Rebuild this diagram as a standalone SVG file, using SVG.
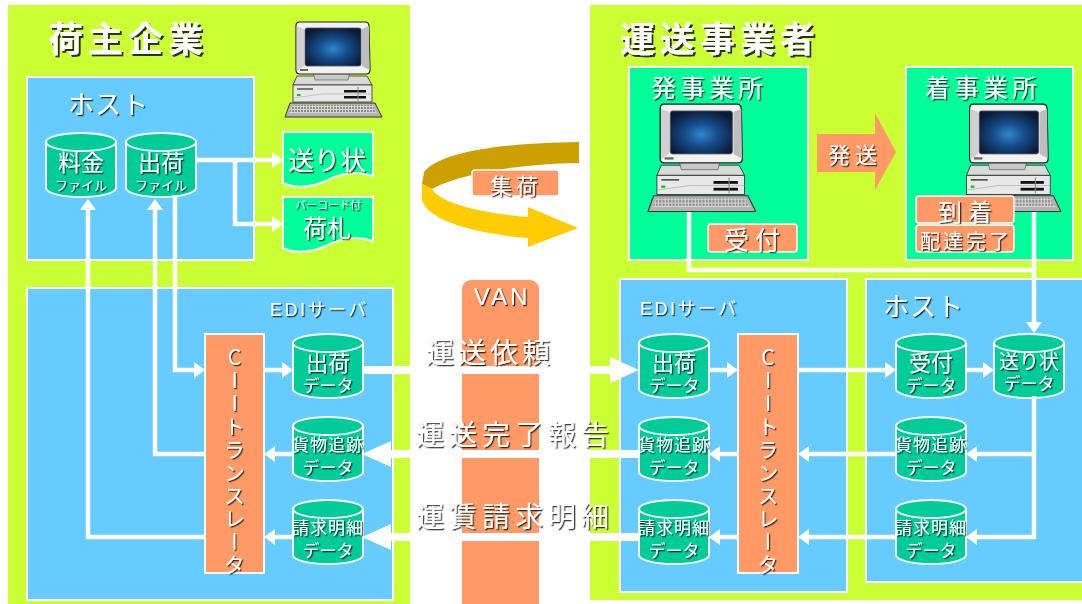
<svg xmlns="http://www.w3.org/2000/svg" width="1082" height="604" viewBox="0 0 1082 604">
  <defs>
    <style>
      .panel { fill: #CCFF33; }
      .box { fill: #66CCFF; stroke: #FFFFFF; stroke-width: 2; }
      .office { fill: #00FF99; stroke: #FFFFFF; stroke-width: 2; }
      .doc { fill: #00FF99; stroke: #FFFFFF; stroke-width: 2; }
      .orange { fill: #FF9966; stroke: #FFFFFF; stroke-width: 1.5; }
      .tr { fill: #FF9966; stroke: #FFFFFF; stroke-width: 2; }
      .t { font-family: "Liberation Sans", "Noto Sans CJK JP", sans-serif; fill: #FFFFFF; filter: url(#sh); }
      .title { font-size: 35px; font-weight: bold; letter-spacing: 5px; filter: url(#sh2); }
      .mid { text-anchor: middle; }
      .vt { font-family: "Noto Sans CJK JP", sans-serif; writing-mode: vertical-rl; text-orientation: upright; font-size: 21px; letter-spacing: 2px; }
      .ln { fill: none; stroke: #FFFFFF; stroke-width: 4.5; stroke-linejoin: miter; marker-end: url(#ah); }
      .lnp { fill: none; stroke: #FFFFFF; stroke-width: 4.5; stroke-linejoin: miter; }
      .big { fill: none; stroke: #FFFFFF; stroke-width: 8; marker-end: url(#ahb); }
    </style>
    <filter id="sh" x="-10%" y="-10%" width="130%" height="140%">
      <feDropShadow dx="1.3" dy="1.3" stdDeviation="0.4" flood-color="#000000" flood-opacity="0.75"/>
    </filter>
    <filter id="sh2" x="-10%" y="-10%" width="130%" height="140%">
      <feDropShadow dx="2" dy="2" stdDeviation="0.5" flood-color="#000000" flood-opacity="0.8"/>
    </filter>
    <marker id="ah" viewBox="0 -8 11 16" refX="0.5" refY="0" markerWidth="11" markerHeight="16" markerUnits="userSpaceOnUse" orient="auto">
      <path d="M0,-8 L11,0 L0,8 Z" fill="#FFFFFF"/>
    </marker>
    <marker id="ahb" viewBox="0 -13 29 26" refX="1" refY="0" markerWidth="29" markerHeight="26" markerUnits="userSpaceOnUse" orient="auto">
      <path d="M0,-13 L29,0 L0,13 Z" fill="#FFFFFF"/>
    </marker>
    <radialGradient id="scr" cx="50%" cy="55%" r="60%">
      <stop offset="0" stop-color="#2F86CF"/>
      <stop offset="0.45" stop-color="#164C8A"/>
      <stop offset="1" stop-color="#0A1A36"/>
    </radialGradient>
    <pattern id="keys" width="3" height="3" patternUnits="userSpaceOnUse">
      <rect width="3" height="3" fill="#D6D6D6"/>
      <rect width="2" height="2" fill="#8C8C8C"/>
    </pattern>
    <!-- desktop computer icon, local size about 100 x 98 -->
    <g id="pc">
      <polygon points="14,56 84,56 89,65 10,65" fill="#D9D9D9" stroke="#333333" stroke-width="0.8"/>
      <rect x="10" y="65" width="79" height="17" fill="#E8E8E8" stroke="#333333" stroke-width="0.8"/>
      <line x1="14" y1="69" x2="30" y2="69" stroke="#555555" stroke-width="1.5"/>
      <rect x="14" y="74" width="3.5" height="2" fill="#00CC00"/>
      <path d="M10,78 L40,74 L89,74" fill="none" stroke="#AAAAAA" stroke-width="0.6"/>
      <rect x="61" y="70" width="22" height="2.5" fill="#111111"/>
      <rect x="61" y="76" width="22" height="2.5" fill="#111111"/>
      <line x1="75" y1="67" x2="75" y2="81" stroke="#888888" stroke-width="1"/>
      <path d="M30,52 H67 L65,60 H32 Z" fill="#C8C8C8" stroke="#555555" stroke-width="0.6"/>
      <path d="M16,2 H82 Q86,2 86,6 L87,50 Q87,54 83,54 H17 Q13,54 13,50 L13,6 Q13,2 16,2 Z" fill="#F2F2F2" stroke="#222222" stroke-width="1.2"/>
      <path d="M13.6,6 L21,9 L21,46 L13.6,51 Z" fill="#D0D0D0"/>
      <path d="M86,6 L79,9 L79,46 L86.5,50 Z" fill="#BEBEBE"/>
      <rect x="22" y="8" width="56" height="38" rx="2" fill="url(#scr)" stroke="#555555" stroke-width="0.8"/>
      <rect x="17" y="49" width="8" height="2" fill="#666666"/>
      <polygon points="7,83 92,83 99,97 2,97" fill="#B4B4B4" stroke="#333333" stroke-width="1"/>
      <polygon points="10,85 89,85 94,93 6,93" fill="url(#keys)"/>
    </g>
    <!-- database cylinder, 70 x 64 -->
    <g id="cyl">
      <path d="M0,9 A35,9 0 0 1 70,9 V55 A35,9 0 0 1 0,55 Z" fill="#00CC99" stroke="#FFFFFF" stroke-width="2"/>
      <path d="M0,9 A35,9 0 0 0 70,9" fill="none" stroke="#FFFFFF" stroke-width="2"/>
    </g>
  </defs>

  <rect width="1082" height="604" fill="#FFFFFF"/>

  <!-- shipper side -->
  <g id="shipper">
    <rect class="panel" x="8" y="5" width="402" height="599"/>
    <text class="t title" x="48" y="52">荷主企業</text>
  </g>
  <!-- carrier side -->
  <g id="carrier">
    <rect class="panel" x="590" y="5" width="492" height="595"/>
    <text class="t title" x="620" y="52">運送事業者</text>
  </g>

  <g id="shipper-host">
    <rect class="box" x="27" y="77" width="227" height="183"/>
    <text class="t" x="68" y="114" font-size="26" letter-spacing="1">ホスト</text>
  </g>
  <g id="shipper-edi">
    <rect class="box" x="27" y="288" width="366" height="312"/>
    <text class="t" x="270" y="316" font-size="18" letter-spacing="2.5">EDIサーバ</text>
  </g>
  <g id="carrier-edi">
    <rect class="box" x="620" y="279" width="227" height="313"/>
    <text class="t" x="640" y="315" font-size="18" letter-spacing="2.5">EDIサーバ</text>
  </g>
  <g id="carrier-host">
    <rect class="box" x="866" y="279" width="220" height="303"/>
    <text class="t" x="883" y="316" font-size="26" letter-spacing="1">ホスト</text>
  </g>

  <g id="van">
    <rect x="462" y="280" width="77" height="334" rx="9" fill="#FF9966"/>
    <text class="t mid" x="502" y="305" font-size="24" letter-spacing="3">VAN</text>
  </g>

  <g id="shipper-pc">
    <use href="#pc" transform="translate(283,20)"/>
  </g>

  <g id="doc-invoice">
    <path class="doc" d="M283,132 H373 V176 C355,170 340,174 328,180 C315,186 298,190 283,183 Z"/>
    <text class="t mid" x="327" y="170" font-size="26">送り状</text>
  </g>
  <g id="doc-tag">
    <path class="doc" d="M283,197 H373 V241 C355,235 340,239 328,245 C315,251 298,255 283,248 Z"/>
    <text class="t mid" x="328" y="209" font-size="11">バーコード付</text>
    <text class="t mid" x="327" y="237" font-size="24">荷札</text>
  </g>

  <g id="cyl-fee-file">
    <use href="#cyl" x="46" y="133"/>
    <text class="t mid" x="81" y="171" font-size="23">料金</text>
    <text class="t mid" x="81" y="190" font-size="13">ファイル</text>
  </g>
  <g id="cyl-ship-file">
    <use href="#cyl" x="126" y="133"/>
    <text class="t mid" x="161" y="171" font-size="23">出荷</text>
    <text class="t mid" x="161" y="190" font-size="13">ファイル</text>
  </g>

  <g id="shipper-translator">
    <rect class="tr" x="205" y="334" width="59" height="239"/>
    <text class="t vt" x="234.5" y="347">CIIトランスレータ</text>
  </g>

  <g id="s-ship-data">
    <use href="#cyl" x="293" y="334"/>
    <text class="t mid" x="328" y="371" font-size="22">出荷</text>
    <text class="t mid" x="328" y="392" font-size="17">データ</text>
  </g>
  <g id="s-track-data">
    <use href="#cyl" x="293" y="417"/>
    <text class="t mid" x="328" y="451" font-size="17" letter-spacing="1">貨物追跡</text>
    <text class="t mid" x="328" y="474" font-size="17">データ</text>
  </g>
  <g id="s-bill-data">
    <use href="#cyl" x="293" y="500"/>
    <text class="t mid" x="328" y="534" font-size="17" letter-spacing="1">請求明細</text>
    <text class="t mid" x="328" y="557" font-size="17">データ</text>
  </g>

  <g id="pickup">
    <path d="M579,142 C500,143 440,152 424,172 L422,184 L432,189 C455,176 510,164 579,163 Z" fill="#CCA000"/>
    <path d="M422,184 L422,200 C428,222 480,234 528,238 L528,247 L578,228 L528,207 L528,217 C480,213 440,203 432,189 Z" fill="#FFCC00"/>
    <rect class="orange" x="472" y="170" width="87" height="26" rx="3"/>
    <text class="t mid" x="516" y="194" font-size="22" letter-spacing="4">集荷</text>
  </g>

  <g id="origin-office">
    <rect class="office" x="629" y="67" width="179" height="193"/>
    <text class="t" x="651" y="97" font-size="25" letter-spacing="4">発事業所</text>
    <use href="#pc" transform="translate(645.8,101.9) scale(1.11,1.13)"/>
    <rect class="orange" x="708" y="224" width="89" height="28" rx="3"/>
    <text class="t mid" x="755" y="249" font-size="25" letter-spacing="6">受付</text>
  </g>

  <g id="dispatch">
    <polygon points="817,134 875,134 875,113 896,152 875,190 875,172 817,172" fill="#FF9966"/>
    <text class="t mid" x="855" y="163" font-size="22" letter-spacing="5">発送</text>
  </g>

  <g id="dest-office">
    <rect class="office" x="906" y="67" width="167" height="193"/>
    <text class="t" x="925" y="97" font-size="25" letter-spacing="4">着事業所</text>
    <use href="#pc" transform="translate(955.9,101.9) scale(1.06,1.13)"/>
    <rect class="orange" x="916" y="196" width="98" height="27" rx="3"/>
    <text class="t mid" x="968" y="221" font-size="24" letter-spacing="6">到着</text>
    <rect class="orange" x="916" y="225" width="98" height="27" rx="3"/>
    <text class="t mid" x="966" y="249" font-size="20" letter-spacing="3">配達完了</text>
  </g>

  <g id="c-ship-data">
    <use href="#cyl" x="639" y="334"/>
    <text class="t mid" x="674" y="371" font-size="22">出荷</text>
    <text class="t mid" x="674" y="392" font-size="17">データ</text>
  </g>
  <g id="c-track-data">
    <use href="#cyl" x="639" y="417"/>
    <text class="t mid" x="674" y="451" font-size="17" letter-spacing="1">貨物追跡</text>
    <text class="t mid" x="674" y="474" font-size="17">データ</text>
  </g>
  <g id="c-bill-data">
    <use href="#cyl" x="639" y="500"/>
    <text class="t mid" x="674" y="534" font-size="17" letter-spacing="1">請求明細</text>
    <text class="t mid" x="674" y="557" font-size="17">データ</text>
  </g>

  <g id="carrier-translator">
    <rect class="tr" x="738" y="334" width="60" height="239"/>
    <text class="t vt" x="768" y="347">CIIトランスレータ</text>
  </g>

  <g id="h-recv-data">
    <use href="#cyl" x="896" y="334"/>
    <text class="t mid" x="931" y="371" font-size="22">受付</text>
    <text class="t mid" x="931" y="392" font-size="17">データ</text>
  </g>
  <g id="h-invoice-data">
    <use href="#cyl" x="994" y="334"/>
    <text class="t mid" x="1029" y="369" font-size="20">送り状</text>
    <text class="t mid" x="1029" y="390" font-size="17">データ</text>
  </g>
  <g id="h-track-data">
    <use href="#cyl" x="896" y="417"/>
    <text class="t mid" x="931" y="451" font-size="17" letter-spacing="1">貨物追跡</text>
    <text class="t mid" x="931" y="474" font-size="17">データ</text>
  </g>
  <g id="h-bill-data">
    <use href="#cyl" x="896" y="500"/>
    <text class="t mid" x="931" y="534" font-size="17" letter-spacing="1">請求明細</text>
    <text class="t mid" x="931" y="557" font-size="17">データ</text>
  </g>

  <g id="connectors">
    <!-- shipper host -->
    <path class="ln" d="M196,160 H272.5"/>
    <path class="ln" d="M235,160 V224 H272.5"/>
    <path class="ln" d="M205,537 H88 V209.5"/>
    <path class="ln" d="M205,454 H155 V209.5"/>
    <path class="ln" d="M175,195 V370 H194.5"/>
    <!-- shipper EDI -->
    <path class="ln" d="M264,370 H282.5"/>
    <path class="ln" d="M293,454 H274.5"/>
    <path class="ln" d="M293,537 H274.5"/>
    <!-- through VAN -->
    <path class="big" d="M362,370 H611"/>
    <path class="big" d="M639,454 H390"/>
    <path class="big" d="M639,537 H390"/>
    <!-- carrier EDI and host -->
    <path class="ln" d="M709,370 H727.5"/>
    <path class="ln" d="M798,370 H885.5"/>
    <path class="ln" d="M966,370 H983.5"/>
    <path class="ln" d="M1034,396 V537 H976.5"/>
    <path class="ln" d="M1034,454 H976.5"/>
    <path class="ln" d="M896,454 H808.5"/>
    <path class="ln" d="M896,537 H808.5"/>
    <path class="ln" d="M738,454 H719.5"/>
    <path class="ln" d="M738,537 H719.5"/>
    <!-- offices to host -->
    <path class="ln" d="M689,212 V270 H1034 V322.5"/>
    <path class="lnp" d="M1034,212 V270"/>
  </g>

  <g id="edge-labels">
    <text class="t" x="426" y="363" font-size="28" letter-spacing="4">運送依頼</text>
    <text class="t" x="416" y="445" font-size="28" letter-spacing="5">運送完了報告</text>
    <text class="t" x="416" y="527" font-size="28" letter-spacing="5">運賃請求明細</text>
  </g>
</svg>
